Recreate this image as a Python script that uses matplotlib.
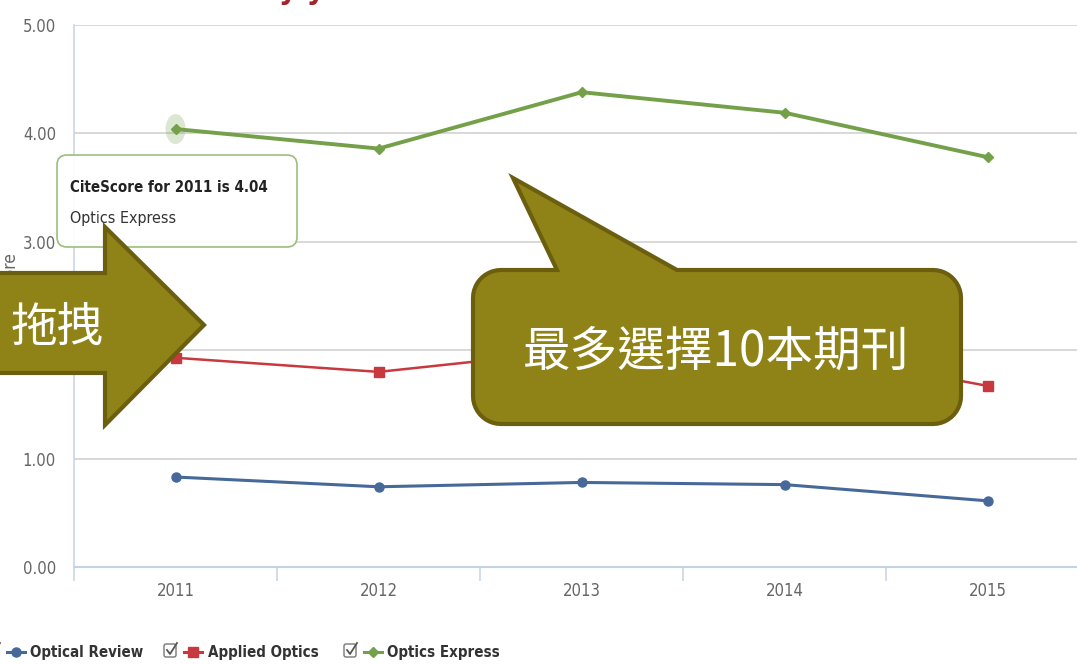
import numpy as np
import matplotlib
matplotlib.use("Agg")
import matplotlib.pyplot as plt
from matplotlib.patches import Ellipse, FancyBboxPatch, Polygon
from matplotlib.lines import Line2D

# data
years = ["2011", "2012", "2013", "2014", "2015"]
optical_review = [0.83, 0.74, 0.78, 0.76, 0.61]
applied_optics = [1.93, 1.80, 2.00, 2.02, 1.67]
optics_express = [4.04, 3.86, 4.38, 4.19, 3.78]
series_names = ["Optical Review", "Applied Optics", "Optics Express"]
y_ticks = [0, 1, 2, 3, 4, 5]

W, H = 1077, 664
cjk = ["Noto Sans CJK TC", "DejaVu Sans"]
narrow = dict(family="DejaVu Sans", stretch="condensed")

c_blue = "#46699a"
c_red = "#c8393f"
c_green = "#74a049"
c_axis = "#c5d3e3"
c_grid = "#d6d6d6"
c_fill = "#8f8317"
c_edge = "#6b5e0e"

fig = plt.figure(figsize=(W / 100, H / 100), dpi=100)
fig.patch.set_facecolor("white")

# main chart; its right edge runs past the screenshot border
ax = fig.add_axes([74 / W, (H - 567) / H, (1089.5 - 74) / W, (567 - 25) / H])
x = np.arange(len(years))
ax.plot(x, optical_review, "-o", color=c_blue, lw=2.2, ms=6.5, zorder=3)
ax.plot(x, applied_optics, "-s", color=c_red, lw=1.8, ms=6.5, zorder=3)
ax.plot(x, optics_express, "-D", color=c_green, lw=2.8, ms=5.5, zorder=3)

# hover halo on the first Optics Express point
ax.add_patch(Ellipse((x[0], optics_express[0]), 20 / 203, 30 / 108.4,
                     color=c_green, alpha=0.25, lw=0, zorder=2))

ax.set_xlim(-0.5, len(years) - 0.5)
ax.set_ylim(0, 5)
ax.set_xticks(x)
ax.set_xticklabels(years, fontsize=12, color="#666666", **narrow)
ax.set_xticks(np.arange(-0.5, len(years)), minor=True)
ax.tick_params(axis="x", which="major", length=0, pad=11)
ax.tick_params(axis="x", which="minor", length=10, width=1.1, color=c_axis)
ax.set_yticks(y_ticks)
ax.set_yticklabels([f"{v:.2f}" for v in y_ticks], fontsize=12,
                   color="#666666", **narrow)
ax.tick_params(axis="y", length=0, pad=13)
ax.yaxis.grid(True, color=c_grid, lw=1.3)
ax.set_axisbelow(True)
for s in ["top", "right"]:
    ax.spines[s].set_visible(False)
ax.spines["left"].set_color(c_axis)
ax.spines["left"].set_linewidth(1.1)
ax.spines["bottom"].set_color(c_axis)
ax.spines["bottom"].set_linewidth(1.5)

fig.text(10 / W, 1 - 289 / H, "CiteScore", rotation=90, ha="center",
         va="center", fontsize=12.5, color="#666666", **narrow)

# overlay in screen pixels (y down)
ov = fig.add_axes([0, 0, 1, 1], zorder=10)
ov.set_xlim(0, W)
ov.set_ylim(H, 0)
ov.axis("off")
ov.patch.set_alpha(0)

# title, mostly cut off at the top edge
ov.text(190, -1, "CiteScore trend by year", ha="center", va="baseline",
        fontsize=20, fontweight="bold", color="#a3242a")

# tooltip
ov.add_patch(FancyBboxPatch((57, 155), 240, 92,
                            boxstyle="round,pad=0,rounding_size=10",
                            fc="white", ec="#93b971", lw=1.2, alpha=0.92))
ov.text(70, 187, f"CiteScore for {years[0]} is {optics_express[0]:.2f}",
        fontweight="bold", fontsize=10.8, color="#222222", va="center",
        **narrow)
ov.text(70, 219, series_names[2], fontsize=11.5, color="#333333",
        va="center", **narrow)

# drag arrow
arrow = [(-10, 273), (105, 273), (105, 227), (204, 325), (105, 425),
         (105, 373), (-10, 373)]
ov.add_patch(Polygon(arrow, closed=True, fc=c_fill, ec=c_edge, lw=3,
                     joinstyle="miter"))
ov.text(57, 328, "拖拽", family=cjk, fontsize=33.5, color="white",
        ha="center", va="center")

# callout with tail
x0, x1, y0, y1, r = 473, 961, 270, 424, 28


def arc(cx, cy, a0, a1):
    t = np.linspace(np.radians(a0), np.radians(a1), 12)
    return list(zip(cx + r * np.cos(t), cy + r * np.sin(t)))


pts = [(x0 + r, y0), (557, y0), (513, 178), (677, y0), (x1 - r, y0)]
pts += arc(x1 - r, y0 + r, -90, 0)
pts += arc(x1 - r, y1 - r, 0, 90)
pts += arc(x0 + r, y1 - r, 90, 180)
pts += arc(x0 + r, y0 + r, 180, 270)
ov.add_patch(Polygon(pts, closed=True, fc=c_fill, ec=c_edge, lw=3,
                     joinstyle="miter"))
ov.text(716, 352, "最多選擇10本期刊", family=cjk, fontsize=34.3,
        color="white", ha="center", va="center")

# legend row with check boxes
legend_y = 652
checks = [-7, 170, 350]
samples = [16, 193, 373]
labels_x = [30, 208, 387]
styles = [(c_blue, "o", 6.5), (c_red, "s", 6.5), (c_green, "D", 5.5)]
for cx, sx, lx, name, (col, mk, ms) in zip(checks, samples, labels_x,
                                          series_names, styles):
    ov.add_patch(FancyBboxPatch((cx - 6, legend_y - 8), 12, 13,
                                boxstyle="round,pad=0,rounding_size=2",
                                fc="white", ec="#777777", lw=1.0,
                                clip_on=False))
    ov.add_line(Line2D([cx - 3, cx, cx + 7], [legend_y - 2, legend_y + 2,
                                             legend_y - 9],
                       color="#555555", lw=1.3, clip_on=False))
    ov.add_line(Line2D([sx - 9, sx + 9], [legend_y, legend_y], color=col,
                       lw=2.2, clip_on=False))
    ov.add_line(Line2D([sx], [legend_y], color=col, marker=mk, ms=ms,
                       clip_on=False))
    ov.text(lx, legend_y, name, fontweight="bold", fontsize=10.8,
            color="#333333", va="center", **narrow)

fig.savefig("out.png", dpi=100)
